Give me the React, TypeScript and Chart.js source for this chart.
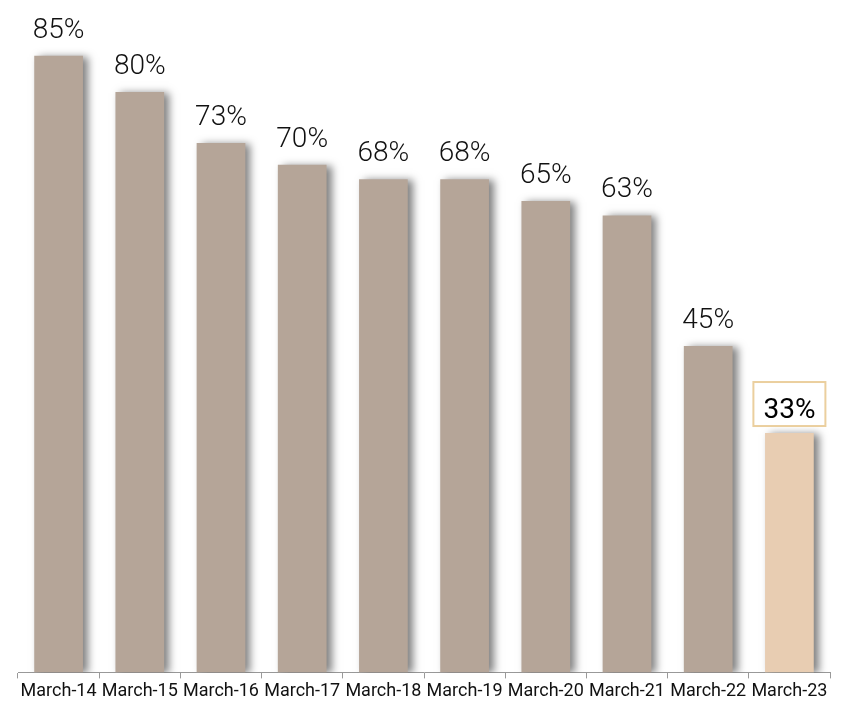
import React, { useEffect, useRef } from "react";
import { Chart, registerables } from "chart.js";

Chart.register(...registerables);

const categories = [
  "March-14", "March-15", "March-16", "March-17", "March-18",
  "March-19", "March-20", "March-21", "March-22", "March-23",
];
const values = [85, 80, 73, 70, 68, 68, 65, 63, 45, 33];
const highlightIndex = 9;

const BAR_COLOR = "#b5a598";
const HIGHLIGHT_COLOR = "#e8cdb2";
const HIGHLIGHT_BORDER = "#ebcf9e";
const FONT = "Roboto, 'Noto Sans', sans-serif";

// Soft drop shadow to the right of each bar
const barShadow = {
  id: "barShadow",
  beforeDatasetsDraw(chart: any) {
    const ctx = chart.ctx;
    ctx.save();
    ctx.shadowColor = "rgba(0,0,0,0.5)";
    ctx.shadowBlur = 8;
    ctx.shadowOffsetX = 5;
    ctx.shadowOffsetY = 1;
  },
  afterDatasetsDraw(chart: any) {
    chart.ctx.restore();
  },
};

// Percentage labels above bars; the highlighted one sits in a framed box
const valueLabels = {
  id: "valueLabels",
  afterDatasetsDraw(chart: any) {
    const ctx = chart.ctx;
    const meta = chart.getDatasetMeta(0);
    ctx.save();
    ctx.textAlign = "center";
    ctx.textBaseline = "alphabetic";
    meta.data.forEach((bar: any, i: number) => {
      const text = `${values[i]}%`;
      if (i === highlightIndex) {
        const base = bar.y - 15;
        ctx.fillStyle = "#fff";
        ctx.fillRect(bar.x - 36, base - 36, 72, 44);
        ctx.strokeStyle = HIGHLIGHT_BORDER;
        ctx.lineWidth = 2;
        ctx.strokeRect(bar.x - 36, base - 36, 72, 44);
        ctx.fillStyle = "#000";
        ctx.font = `400 28px ${FONT}`;
        ctx.fillText(text, bar.x, base);
      } else {
        ctx.fillStyle = "#111";
        ctx.font = `300 28px ${FONT}`;
        ctx.fillText(text, bar.x, bar.y - 18);
      }
    });
    ctx.restore();
  },
};

export default function App() {
  const canvasRef = useRef<HTMLCanvasElement | null>(null);

  useEffect(() => {
    if (!canvasRef.current) return;
    const chart = new Chart(canvasRef.current, {
      type: "bar",
      data: {
        labels: categories,
        datasets: [
          {
            data: values,
            backgroundColor: values.map((_, i) =>
              i === highlightIndex ? HIGHLIGHT_COLOR : BAR_COLOR
            ),
            borderWidth: 0,
            categoryPercentage: 1,
            barPercentage: 0.6,
          },
        ],
      },
      options: {
        responsive: false,
        animation: false,
        layout: { padding: { left: 18, right: 11, top: 0, bottom: 4 } },
        plugins: {
          legend: { display: false },
          tooltip: { enabled: false },
        },
        scales: {
          x: {
            grid: {
              drawOnChartArea: false,
              drawTicks: true,
              tickLength: 6,
              color: "#999",
            },
            border: { color: "#999", width: 1 },
            ticks: {
              color: "#111",
              font: { family: FONT, size: 18 },
              padding: 2,
              maxRotation: 0,
              autoSkip: false,
            },
          },
          y: {
            display: false,
            min: 0,
            max: 92.7,
          },
        },
      },
      plugins: [barShadow, valueLabels],
    });
    return () => chart.destroy();
  }, []);

  return (
    <div style={{ position: "absolute", left: 0, top: 0, width: 841, height: 708, background: "#fff" }}>
      <canvas ref={canvasRef} width={841} height={708} style={{ display: "block" }} />
    </div>
  );
}
